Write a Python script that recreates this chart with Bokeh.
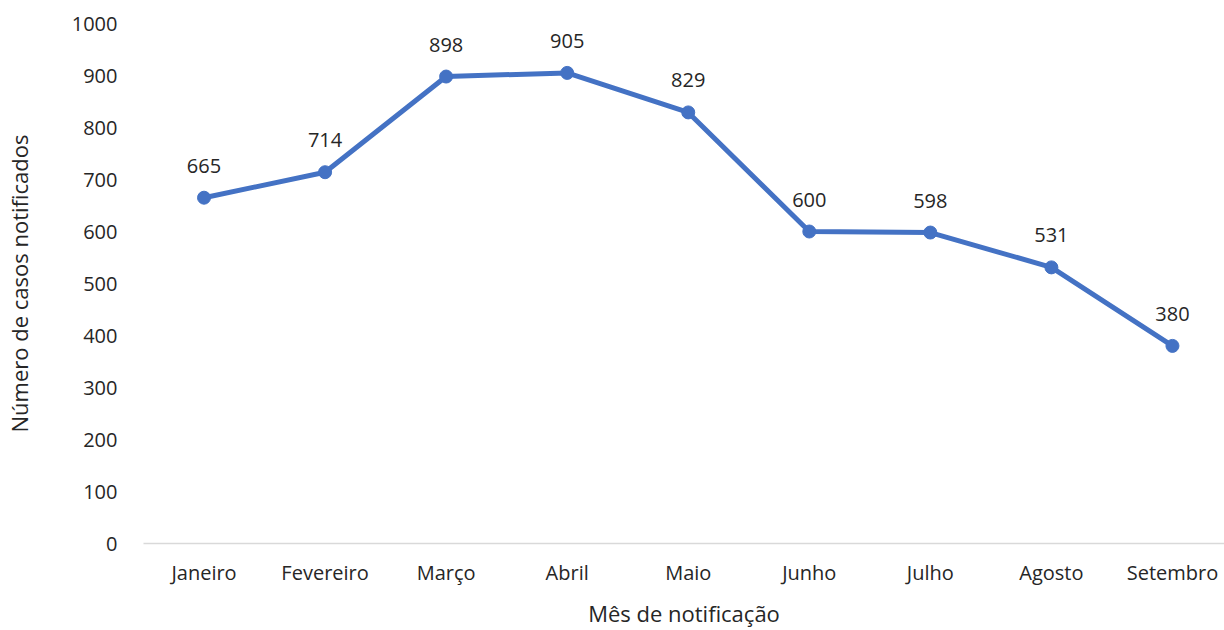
from bokeh.plotting import figure
from bokeh.models import ColumnDataSource, FixedTicker, Range1d, LabelSet
from bokeh.core.properties import value
from bokeh.embed import file_html
from bokeh.resources import INLINE

months = ["Janeiro", "Fevereiro", "Março", "Abril", "Maio", "Junho", "Julho", "Agosto", "Setembro"]
cases = [665, 714, 898, 905, 829, 600, 598, 531, 380]
y_ticks = [0, 100, 200, 300, 400, 500, 600, 700, 800, 900, 1000]

FONT = "Open Sans"
BLUE = "#4472C4"
TXT = "#262626"

xs = list(range(len(months)))
src = ColumnDataSource(dict(x=xs, y=cases, lab=[str(v) for v in cases]))

p = figure(width=1224, height=630, output_backend="svg", toolbar_location=None,
           x_range=Range1d(-0.5, 8.43), y_range=Range1d(0, 1000),
           min_border_left=143, min_border_right=0, min_border_top=23, min_border_bottom=87)
p.outline_line_color = None
p.xgrid.grid_line_color = None
p.ygrid.grid_line_color = None

p.line("x", "y", source=src, line_color=BLUE, line_width=5)
p.scatter("x", "y", source=src, size=13, fill_color=BLUE, line_color=BLUE)

labels = LabelSet(x="x", y="y", text="lab", source=src, text_align="center",
                  text_baseline="bottom", y_offset=25, text_font=value(FONT),
                  text_font_size="20px", text_color=TXT)
p.add_layout(labels)

p.xaxis.ticker = FixedTicker(ticks=xs)
p.xaxis.major_label_overrides = {i: m for i, m in enumerate(months)}
p.xaxis.axis_line_color = "#d9d9d9"
p.xaxis.axis_line_width = 1.5
p.xaxis.major_tick_line_color = None
p.xaxis.minor_tick_line_color = None
p.xaxis.major_label_standoff = 9
p.xaxis.major_label_text_font = FONT
p.xaxis.major_label_text_font_size = "20px"
p.xaxis.major_label_text_color = TXT
p.xaxis.axis_label = "Mês de notificação"
p.xaxis.axis_label_text_font = FONT
p.xaxis.axis_label_text_font_size = "22px"
p.xaxis.axis_label_text_font_style = "normal"
p.xaxis.axis_label_text_color = TXT
p.xaxis.axis_label_standoff = 9

p.yaxis.ticker = FixedTicker(ticks=y_ticks)
p.yaxis.axis_line_color = None
p.yaxis.major_tick_line_color = None
p.yaxis.minor_tick_line_color = None
p.yaxis.major_label_standoff = 20
p.yaxis.major_label_text_font = FONT
p.yaxis.major_label_text_font_size = "20px"
p.yaxis.major_label_text_color = TXT
p.yaxis.axis_label = "Número de casos notificados"
p.yaxis.axis_label_text_font = FONT
p.yaxis.axis_label_text_font_size = "22px"
p.yaxis.axis_label_text_font_style = "normal"
p.yaxis.axis_label_text_color = TXT
p.yaxis.axis_label_standoff = 35

open("out.html", "w").write(file_html(p, INLINE))
